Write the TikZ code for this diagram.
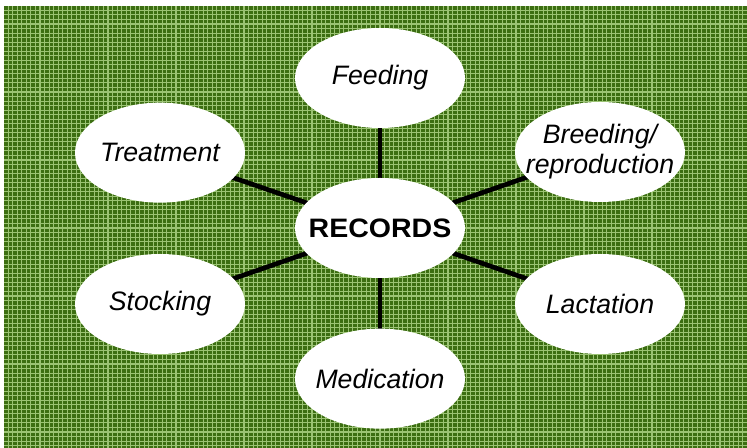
\documentclass[tikz,border=0pt]{standalone}
\usepackage{fontspec}
\setmainfont{Liberation Sans}
\newfontfamily\recfont{Liberation Sans}[FakeStretch=1.07]
\usetikzlibrary{positioning,shapes.geometric}
\pgfdeclarelayer{bg}
\pgfdeclarelayer{spokes}
\pgfsetlayers{bg,spokes,main}
\definecolor{leaf}{RGB}{60,110,18}
\definecolor{leaflight}{RGB}{155,195,115}
\tikzstyle{topic} = [ellipse, fill=white, minimum width=127.5pt, minimum height=75pt, inner xsep=-20pt, inner ysep=-10pt, align=center, font=\fontsize{20}{22.5}\selectfont\itshape]
\tikzstyle{hub} = [topic, font=\fontsize{20}{22.5}\selectfont\recfont\bfseries]
\tikzstyle{spoke} = [line width=3.5pt, black]

\begin{document}
\begin{tikzpicture}
        \useasboundingbox (-285pt,171pt) rectangle (275.25pt,-165pt);
        \node[hub] (rec) at (0,0) {RECORDS};
        \node[topic] (feed) [on grid, above=112.5pt of rec] {Feeding};
        \node[topic] (med) [on grid, below=113pt of rec] {Medication};
        \node[topic] (treat) [on grid, above left=56.5pt and 165pt of rec] {Treatment};
        \node[topic] (stock) [on grid, below left=57pt and 165pt of rec] {Stocking};
        \node[topic] (breed) [on grid, above right=57pt and 165pt of rec] {Breeding/\\reproduction};
        \node[topic] (lact) [on grid, below right=57pt and 165pt of rec] {Lactation};
        \begin{pgfonlayer}{spokes}
        \draw[spoke] (rec.center) -- (feed.center);
        \draw[spoke] (rec.center) -- (med.center);
        \draw[spoke] (rec.center) -- (treat.center);
        \draw[spoke] (rec.center) -- (stock.center);
        \draw[spoke] (rec.center) -- (breed.center);
        \draw[spoke] (rec.center) -- (lact.center);
        \end{pgfonlayer}
        \begin{pgfonlayer}{bg}
        \fill[leaf] (-282pt,166.5pt) rectangle (275.25pt,-165pt);
        \draw[leaflight, line width=0.8pt, step=3.4pt] (-282pt,166.5pt) grid (275.25pt,-165pt);
        \end{pgfonlayer}
    \end{tikzpicture}
\end{document}
